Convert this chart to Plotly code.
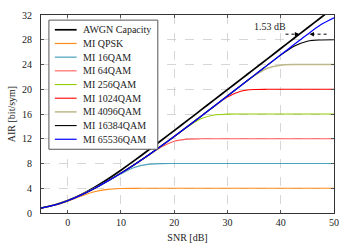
import plotly.graph_objects as go

snr_db = [-5, -2.5, 0, 2.5, 5, 7.5, 10, 12.5, 15, 17.5, 20, 22.5, 25, 27.5,
          30, 32.5, 35, 37.5, 40, 42.5, 45, 47.5, 50]

awgn = [0.79, 1.29, 2.00, 2.95, 4.12, 5.46, 6.92, 8.46, 10.06, 11.68, 13.32, 14.96,
        16.62, 18.28, 19.93, 21.59, 23.25, 24.91, 26.58, 28.24, 29.90, 31.56, 33.22]
mi_qpsk = [0.78, 1.25, 1.92, 2.72, 3.43, 3.83, 3.96, 3.99, 4.0, 4.0, 4.0, 4.0,
           4.0, 4.0, 4.0, 4.0, 4.0, 4.0, 4.0, 4.0, 4.0, 4.0, 4.0]
mi_16qam = [0.79, 1.28, 1.98, 2.89, 3.95, 5.13, 6.33, 7.35, 7.85, 7.98, 8.0, 8.0,
            8.0, 8.0, 8.0, 8.0, 8.0, 8.0, 8.0, 8.0, 8.0, 8.0, 8.0]
mi_64qam = [0.79, 1.28, 1.98, 2.89, 3.96, 5.15, 6.44, 7.81, 9.22, 10.62, 11.61, 11.94,
            11.99, 12.0, 12.0, 12.0, 12.0, 12.0, 12.0, 12.0, 12.0, 12.0, 12.0]
mi_256qam = [0.79, 1.28, 1.98, 2.89, 3.96, 5.15, 6.44, 7.81, 9.25, 10.78, 12.35, 13.92,
             15.23, 15.85, 15.98, 16.0, 16.0, 16.0, 16.0, 16.0, 16.0, 16.0, 16.0]
mi_1024qam = [0.79, 1.28, 1.98, 2.89, 3.96, 5.15, 6.44, 7.81, 9.25, 10.78, 12.36, 13.98,
              15.61, 17.23, 18.74, 19.68, 19.95, 19.99, 20.0, 20.0, 20.0, 20.0, 20.0]
mi_4096qam = [0.79, 1.28, 1.98, 2.89, 3.96, 5.15, 6.44, 7.81, 9.25, 10.78, 12.36, 13.98,
              15.61, 17.26, 18.92, 20.57, 22.16, 23.39, 23.89, 23.99, 24.0, 24.0, 24.0]
mi_16384qam = [0.79, 1.28, 1.98, 2.89, 3.96, 5.15, 6.44, 7.81, 9.25, 10.78, 12.36, 13.98,
               15.61, 17.26, 18.92, 20.58, 22.24, 23.90, 25.52, 26.96, 27.77, 27.97, 28.0]
mi_65536qam = [0.79, 1.28, 1.98, 2.89, 3.96, 5.15, 6.44, 7.81, 9.25, 10.78, 12.36, 13.98,
               15.61, 17.26, 18.92, 20.58, 22.24, 23.90, 25.56, 27.22, 28.86, 30.42, 31.54]

series_names = ["AWGN Capacity", "MI QPSK", "MI 16QAM", "MI 64QAM", "MI 256QAM",
                "MI 1024QAM", "MI 4096QAM", "MI 16384QAM", "MI 65536QAM"]
series_values = [awgn, mi_qpsk, mi_16qam, mi_64qam, mi_256qam, mi_1024qam,
                 mi_4096qam, mi_16384qam, mi_65536qam]
series_colors = ["#000000", "#ff8c1a", "#4aa0bd", "#ff5c5c", "#8fcc00",
                 "#ff0000", "#bfb88a", "#000000", "#0000ff"]
series_widths = [1.7, 1.2, 1.2, 1.1, 1.1, 1.1, 1.5, 1.1, 1.2]

x_ticks = [0, 10, 20, 30, 40, 50]
y_ticks = [0, 4, 8, 12, 16, 20, 24, 28, 32]

FONT = "Liberation Serif"

fig = go.Figure()
for name, vals, col, w in zip(series_names, series_values, series_colors, series_widths):
    fig.add_trace(go.Scatter(x=snr_db, y=vals, mode="lines", name=name,
                             line=dict(color=col, width=w, shape="spline", smoothing=0.8),
                             showlegend=False, hoverinfo="skip"))

# manual legend (pgfplots style)
L, R, T, B = 41, 337, 9, 214
def px(xp):
    return (xp - L) / (R - L)
def py(yp):
    return (B - yp) / (B - T)

fig.add_shape(type="rect", xref="paper", yref="paper",
              x0=px(49), x1=px(159), y0=py(148), y1=py(14.3),
              line=dict(color="#555555", width=1), fillcolor="white", layer="above")
for i, (name, col, w) in enumerate(zip(series_names, series_colors, series_widths)):
    yy = py(24.3 + 14.17 * i)
    fig.add_shape(type="line", xref="paper", yref="paper",
                  x0=px(55), x1=px(77), y0=yy, y1=yy,
                  line=dict(color=col, width=w), layer="above")
    fig.add_annotation(xref="paper", yref="paper", x=px(81), y=yy, text=name,
                       showarrow=False, xanchor="left", yanchor="middle",
                       font=dict(family=FONT, size=10, color="#222222"))

# 1.53 dB gap annotation
fig.add_annotation(x=37.9, y=30.2, text="1.53 dB", showarrow=False,
                   font=dict(family=FONT, size=10, color="#222222"))
fig.add_shape(type="line", x0=40.9, x1=43.2, y0=28.9, y1=28.9,
              line=dict(color="black", width=1, dash="dot"))
fig.add_shape(type="line", x0=45.8, x1=48.8, y0=28.9, y1=28.9,
              line=dict(color="black", width=1, dash="dot"))
fig.add_annotation(x=43.5, y=28.9, ax=42.6, ay=28.9, axref="x", ayref="y",
                   text="", showarrow=True, arrowhead=2, arrowsize=0.9,
                   arrowwidth=1, arrowcolor="black")
fig.add_annotation(x=45.4, y=28.9, ax=46.3, ay=28.9, axref="x", ayref="y",
                   text="", showarrow=True, arrowhead=2, arrowsize=0.9,
                   arrowwidth=1, arrowcolor="black")

axis_common = dict(showline=True, linecolor="#333333", linewidth=1, mirror="ticks",
                   ticks="inside", ticklen=3, tickcolor="#555555",
                   showgrid=True, gridcolor="#cccccc", griddash="dash", gridwidth=0.8,
                   zeroline=False, tickfont=dict(family=FONT, size=10, color="#222222"))

fig.update_xaxes(range=[-5, 50], tickvals=x_ticks, **axis_common,
                 title=dict(text="SNR [dB]", font=dict(family=FONT, size=10, color="#222222"),
                            standoff=6))
fig.update_yaxes(range=[0, 32], tickvals=y_ticks, ticklabelstandoff=6, **axis_common,
                 title=dict(text="AIR [bit/sym]", font=dict(family=FONT, size=10, color="#222222"),
                            standoff=4))

fig.update_layout(width=348, height=250, margin=dict(l=L, r=348 - R, t=T, b=250 - B),
                  plot_bgcolor="white", paper_bgcolor="white", showlegend=False,
                  hovermode=False)

fig.write_html("out.html", config={"displayModeBar": False, "staticPlot": True},
               post_script="document.body.style.margin='0';")
